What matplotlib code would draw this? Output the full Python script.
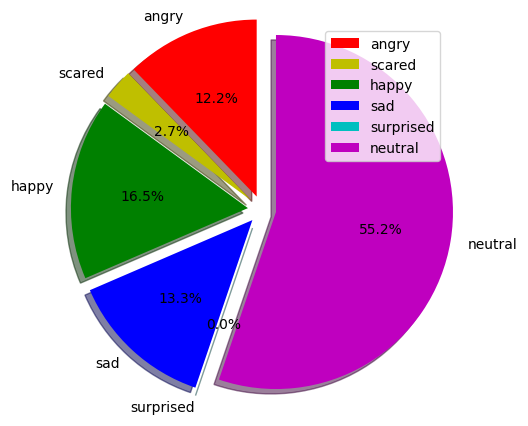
import matplotlib
matplotlib.use('Agg')
import matplotlib.pyplot as plt

labels = ['angry', 'scared', 'happy', 'sad', 'surprised', 'neutral']
values = [12.24, 2.72, 16.52, 13.30, 0.0, 55.22]
colors = ['r', 'y', 'g', 'b', 'c', 'm']
explode = [0.08, 0.08, 0.08, 0.08, 0.08, 0.08]

fig = plt.figure(figsize=(5.28, 4.27), dpi=100)
ax = fig.add_axes([0, 0, 1, 1])

wedges, texts, autotexts = ax.pie(values, labels=labels, colors=colors, explode=explode,
                                  autopct='%1.1f%%', shadow=True, startangle=90)

# place the pie like in the reference (centre ~ (262, 211) px, radius ~177 px)
r_px = 177
cx, cy = 262, 210.7
W, H = 528, 427
ax.set_aspect('auto')
ax.set_xlim(-cx / r_px, (W - cx) / r_px)
ax.set_ylim(-(H - cy) / r_px, cy / r_px)

ax.legend(wedges, labels, loc='upper right', bbox_to_anchor=(440 / W, 1 - 32 / H),
          bbox_transform=fig.transFigure, borderaxespad=0)

plt.savefig('out.png', dpi=100)
